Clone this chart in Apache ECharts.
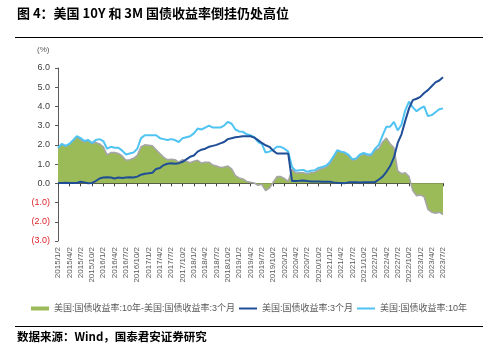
<!DOCTYPE html>
<html>
<head>
<meta charset="utf-8">
<script src="https://cdn.jsdelivr.net/npm/echarts@6/dist/echarts.min.js"></script>
<style>
html,body{margin:0;padding:0;background:#fff;}
#chart{width:500px;height:355px;}
</style>
</head>
<body>
<div id="chart"></div>
<script>
// Monthly categories 2015/1/2 ... 2023/7/2
const categories = [];
for (let y = 2015; y <= 2023; y++) {
  for (let m = 1; m <= 12; m++) {
    if (y === 2023 && m > 7) break;
    categories.push(y + '/' + m + '/2');
  }
}

const yield10Y = [
  1.85, 2.05, 1.95, 2.05, 2.25, 2.45, 2.35, 2.2, 2.25, 2.1, 2.25, 2.3,
  2.2, 1.8, 1.9, 1.85, 1.85, 1.7, 1.5, 1.55, 1.6, 1.8, 2.35, 2.5,
  2.5, 2.5, 2.5, 2.35, 2.3, 2.25, 2.3, 2.25, 2.15, 2.35, 2.4, 2.45,
  2.6, 2.85, 2.8, 2.9, 3.0, 2.9, 2.9, 2.9, 3.0, 3.2, 3.1, 2.8,
  2.7, 2.68, 2.55, 2.5, 2.4, 2.15, 2.05, 1.6, 1.65, 1.75, 1.9, 1.9,
  1.8, 1.65, 0.85, 0.65, 0.68, 0.7, 0.6, 0.65, 0.68, 0.8, 0.85, 0.92,
  1.1, 1.4, 1.72, 1.65, 1.6, 1.48, 1.25, 1.3, 1.5, 1.58, 1.5, 1.5,
  1.8, 2.0, 2.5, 2.95, 2.95, 3.2, 2.75, 3.05, 3.8, 4.25, 3.95, 3.75,
  3.9, 4.0, 3.5, 3.55, 3.7, 3.85, 3.9
];

const yield3M = [
  0.02, 0.02, 0.03, 0.02, 0.02, 0.02, 0.08, 0.05, 0.0, 0.02, 0.12, 0.25,
  0.3, 0.32, 0.3, 0.25, 0.3, 0.28, 0.3, 0.32, 0.3, 0.35, 0.45, 0.5,
  0.52, 0.55, 0.75, 0.8, 0.95, 1.02, 1.05, 1.02, 1.05, 1.12, 1.25, 1.38,
  1.45, 1.65, 1.75, 1.8, 1.9, 1.95, 2.0, 2.08, 2.15, 2.3, 2.35, 2.4,
  2.42, 2.45, 2.45, 2.45, 2.38, 2.25, 2.1, 1.98, 1.9, 1.7, 1.55, 1.55,
  1.55, 1.55, 0.12, 0.12, 0.13, 0.15, 0.12, 0.1, 0.1, 0.1, 0.08, 0.08,
  0.08, 0.05, 0.03, 0.02, 0.01, 0.05, 0.05, 0.05, 0.04, 0.05, 0.05, 0.06,
  0.06, 0.2, 0.35, 0.6, 0.9, 1.35, 2.1, 2.55, 3.25, 3.9, 4.33, 4.4,
  4.5, 4.7, 4.85, 5.05, 5.25, 5.35, 5.52
];

const spread10Y3M = [
  1.83, 2.03, 1.92, 2.03, 2.23, 2.43, 2.27, 2.15, 2.25, 2.08, 2.13, 2.05,
  1.9, 1.48, 1.6, 1.6, 1.55, 1.42, 1.2, 1.23, 1.3, 1.45, 1.9, 2.0,
  1.98, 1.95, 1.75, 1.55, 1.35, 1.23, 1.25, 1.23, 1.1, 1.23, 1.15, 1.07,
  1.15, 1.2, 1.05, 1.1, 1.1, 0.95, 0.9, 0.82, 0.85, 0.9, 0.75, 0.4,
  0.28, 0.23, 0.1, 0.05, 0.02, -0.1, -0.05, -0.38, -0.25, 0.05, 0.35, 0.35,
  0.25, 0.1, 0.73, 0.53, 0.55, 0.55, 0.48, 0.55, 0.58, 0.7, 0.77, 0.84,
  1.02, 1.35, 1.69, 1.63, 1.59, 1.43, 1.2, 1.25, 1.46, 1.53, 1.45, 1.44,
  1.74, 1.8, 2.15, 2.35, 2.05, 1.85, 0.65, 0.5, 0.55, 0.35, -0.38, -0.65,
  -0.6, -0.7, -1.35, -1.5, -1.55, -1.5, -1.62
];

const seriesNames = [
  '美国:国债收益率:10年-美国:国债收益率:3个月',
  '美国:国债收益率:3个月',
  '美国:国债收益率:10年'
];

const titleText = '图 4：美国 10Y 和 3M 国债收益率倒挂仍处高位';
const sourceText = '数据来源：Wind，国泰君安证券研究';

const numFont = '"Liberation Sans", Arial, sans-serif';
const cjkFont = '"Liberation Sans", "Noto Sans CJK SC", sans-serif';

const chart = echarts.init(document.getElementById('chart'), null, {renderer: 'canvas'});

chart.setOption({
  animation: false,
  backgroundColor: '#ffffff',
  grid: {left: 58, right: 57, top: 68, bottom: 114, containLabel: false},
  graphic: [
    {type: 'text', left: 17, top: 7, style: {text: titleText, font: 'bold 13px "Noto Sans CJK SC", sans-serif', fill: '#000'}},
    {type: 'line', shape: {x1: 15, y1: 37.5, x2: 483, y2: 37.5}, style: {stroke: '#000', lineWidth: 1}},
    {type: 'text', left: 37, top: 46, style: {text: '(%)', font: '8px ' + numFont, fill: '#595959'}},
    {type: 'line', shape: {x1: 15, y1: 326.5, x2: 483, y2: 326.5}, style: {stroke: '#000', lineWidth: 1}},
    {type: 'text', left: 17, top: 331, style: {text: sourceText, font: 'bold 11.5px "Noto Sans CJK SC", sans-serif', fill: '#000'}}
  ],
  legend: {
    left: 26,
    top: 299,
    itemWidth: 18,
    itemHeight: 4,
    itemGap: 4,
    textStyle: {fontSize: 9, color: '#595959', fontFamily: cjkFont},
    data: [
      {name: seriesNames[0], icon: 'rect'},
      {name: seriesNames[1], icon: 'path://M0,0H18V2H0Z'},
      {name: seriesNames[2], icon: 'path://M0,0H18V2H0Z'}
    ]
  },
  xAxis: [
    {
      type: 'category',
      data: categories,
      boundaryGap: false,
      position: 'bottom',
      axisLine: {show: false, onZero: false},
      axisTick: {show: false},
      splitLine: {show: false},
      axisLabel: {
        interval: 2,
        rotate: 90,
        margin: 6,
        fontSize: 8,
        color: '#595959',
        fontFamily: numFont
      }
    },
    {
      type: 'category',
      data: categories,
      boundaryGap: false,
      position: 'bottom',
      axisLine: {show: true, onZero: true, lineStyle: {color: '#404040', width: 1}},
      axisTick: {show: true, interval: 2, length: 3, inside: false, lineStyle: {color: '#404040'}},
      axisLabel: {show: false},
      splitLine: {show: false}
    }
  ],
  yAxis: {
    type: 'value',
    min: -3,
    max: 6,
    interval: 1,
    axisLine: {show: true, lineStyle: {color: '#595959', width: 1}},
    axisTick: {show: true, length: 3, lineStyle: {color: '#595959'}},
    splitLine: {show: false},
    axisLabel: {
      margin: 8,
      fontSize: 9,
      fontFamily: numFont,
      formatter: function (v) {
        return v < 0 ? '(' + (-v).toFixed(1) + ')' : v.toFixed(1);
      },
      color: function (v) {
        return Number(v) < 0 ? '#E0262C' : '#404040';
      }
    }
  },
  series: [
    {
      name: seriesNames[0],
      type: 'line',
      xAxisIndex: 0,
      data: spread10Y3M,
      symbol: 'none',
      smooth: false,
      color: '#9BBB59',
      lineStyle: {color: '#A6A6A6', width: 1.6},
      areaStyle: {color: '#9BBB59', opacity: 1},
      itemStyle: {color: '#9BBB59'},
      z: 1
    },
    {
      name: seriesNames[1],
      type: 'line',
      xAxisIndex: 0,
      data: yield3M,
      symbol: 'none',
      color: '#1F4E96',
      lineStyle: {color: '#1F4E96', width: 2},
      itemStyle: {color: '#1F4E96'},
      z: 3
    },
    {
      name: seriesNames[2],
      type: 'line',
      xAxisIndex: 0,
      data: yield10Y,
      symbol: 'none',
      color: '#4FC3F2',
      lineStyle: {color: '#4FC3F2', width: 2},
      itemStyle: {color: '#4FC3F2'},
      z: 2
    }
  ]
});
</script>
</body>
</html>
